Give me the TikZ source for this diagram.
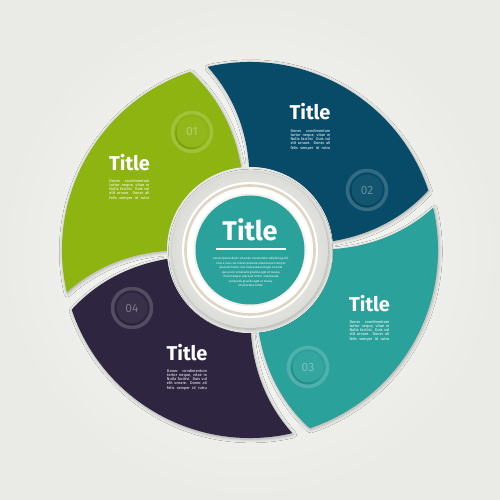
\documentclass[tikz,border=0pt]{standalone}
\usepackage{fontspec}
\setmainfont{Fira Sans}
\usetikzlibrary{shadows.blur}
\definecolor{cgreen}{RGB}{141,180,17}
\definecolor{cblue}{RGB}{7,75,104}
\definecolor{cteal}{RGB}{42,161,154}
\definecolor{cpurple}{RGB}{46,38,64}
\definecolor{bgin}{RGB}{250,250,248}
\definecolor{bgout}{RGB}{234,234,231}
\definecolor{gapgray}{RGB}{232,232,229}
\definecolor{ringgray}{RGB}{220,220,216}
\definecolor{beige}{RGB}{222,214,196}
\newcommand\drawblade[3]{%
  \path[blade,fill=#3] plot[domain=83:188,samples=30] ({#1+bf(\x)}:\x)
    arc[start angle={#1+bf(188)}, end angle={#2+bf(188)}, radius=188]
    -- plot[domain=188:83,samples=30] ({#2+bf(\x)}:\x)
    arc[start angle={#2+bf(83)}, end angle={#1+bf(83)}, radius=83] -- cycle;}
\newcommand\numcirc[4]{%
  \begin{scope}[shift={(#1)}]
    \draw[white, opacity=0.18, line width=3.5pt] (0,0) circle (19.5);
    \fill[black, opacity=0.12] (-1.3,-1.7) circle (15.5);
    \fill[#2] (0,0) circle (15.5);
    \fill[white, opacity=0.05] (0,0) circle (15.5);
    \node[numtxt] (#4) at (0,0) {#3};
  \end{scope}}
\newcommand\bladebody{\makebox[40pt][s]{Donec condimentum}\\\makebox[40pt][s]{tortor neque, vitae m}\\\makebox[40pt][s]{Nulla facilisi. Duis vul}\\\makebox[40pt][s]{elit ornare. Donec ali}\\\makebox[40pt][s]{felis semper id rutru}}
\begin{document}
\begin{tikzpicture}[x=1pt,y=1pt,
  declare function={bf(\r)=12.5*pow((\r-78)/110,1.5);},
  blade/.style={blur shadow={shadow xshift=0.8pt,shadow yshift=-1.3pt,shadow blur radius=3.5pt,shadow blur steps=8,shadow opacity=30}},
  ttl/.style={text=white,font=\fontsize{20}{20}\selectfont\bfseries,inner sep=0pt},
  bodyt/.style={text=white,font=\fontsize{3.9}{4.3}\selectfont,align=center,inner sep=0pt},
  numtxt/.style={text=white,text opacity=0.33,font=\fontsize{12}{12}\selectfont,inner sep=0pt},
  ctitle/.style={text=white,font=\fontsize{27}{27}\selectfont\bfseries,inner sep=0pt},
  cbody/.style={text=white,font=\fontsize{3.0}{4.5}\selectfont,align=center,inner sep=0pt}]
\useasboundingbox (-250,-250) rectangle (250,250);
\shade[inner color=bgin, outer color=bgout] (-250,-250) rectangle (250,250);
% blades
\drawblade{186}{270.5}{cpurple}
\drawblade{-84}{0.5}{cteal}
\drawblade{6}{90.5}{cblue}
\drawblade{96}{180.5}{cgreen}
% number circles
\numcirc{-58,118}{cgreen}{01}{n1}
\numcirc{117,60}{cblue}{02}{n2}
\numcirc{58,-117}{cteal}{03}{n3}
\numcirc{-118,-58}{cpurple}{04}{n4}
% blade texts
\node[ttl] (t1) at (-120.5,87) {Title};
\node[bodyt] (b1) at (-120.5,60.5) {\bladebody};
\node[ttl] (t2) at (60,138) {Title};
\node[bodyt] (b2) at (60.5,110.5) {\bladebody};
\node[ttl] (t3) at (119.5,-53.5) {Title};
\node[bodyt] (b3) at (119.5,-80.5) {\bladebody};
\node[ttl] (t4) at (-63,-103) {Title};
\node[bodyt] (b4) at (-63,-129.5) {\bladebody};
% center hub
\fill[gapgray] (0,0) circle (83);
\shade[blur shadow={shadow xshift=0.6pt,shadow yshift=-1.2pt,shadow blur radius=4pt,shadow blur steps=8,shadow opacity=28},
  inner color=white, outer color=ringgray] (0,0) circle (78);
\fill[white] (0,0) circle (68);
\draw[beige, line width=2.6pt] (0,0) circle (64.5);
\draw[white!90!beige, line width=1pt] (0,0) circle (62);
\fill[white] (0,0) circle (61.5);
\fill[beige, opacity=0.35] (0,0) circle (56.5);
\fill[cteal] (0,0) circle (54.5);
\node[ctitle] (ct) at (0,20) {Title};
\coordinate (ul1) at (-34,1);
\coordinate (ul2) at (36,1);
\draw[white, line width=1.8pt] (ul1) -- (ul2);
\node[cbody] (cb) at (1,-22.5) {Lorem ipsum dolor sit amet, consectetur adipiscing elit.\\Cras a risus vel metus posuere ullamcorper tempor\\placerat tortor non malesuada.Integer et enim\\quis nunc venenatis gravida eget et massa.\\Proin tempor placerat tortor\ \ malesuada\\venenatis gravida eget et massa.\\Ut pharetra tortor.};
\end{tikzpicture}
\end{document}
